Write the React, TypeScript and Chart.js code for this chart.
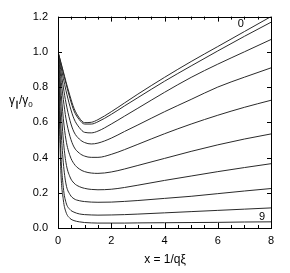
import React, { useEffect, useRef } from "react";
import { Chart, registerables } from "chart.js";

Chart.register(...registerables);

const xs = [0, 0.1, 0.2, 0.3, 0.45, 0.6, 0.8, 1.0, 1.25, 1.5, 2, 2.5, 3, 4, 5, 6, 7, 8];

const curve0 = [1.0, 0.945, 0.888, 0.83, 0.75, 0.68, 0.625, 0.598, 0.6, 0.615, 0.66, 0.71, 0.76, 0.855, 0.945, 1.03, 1.115, 1.2];
const curve1 = [1.0, 0.94, 0.88, 0.82, 0.735, 0.665, 0.615, 0.59, 0.59, 0.603, 0.645, 0.693, 0.74, 0.833, 0.92, 1.005, 1.088, 1.168];
const curve2 = [1.0, 0.925, 0.85, 0.78, 0.69, 0.62, 0.57, 0.543, 0.54, 0.55, 0.59, 0.635, 0.68, 0.77, 0.855, 0.93, 1.0, 1.07];
const curve3 = [1.0, 0.9, 0.8, 0.71, 0.61, 0.545, 0.505, 0.485, 0.477, 0.482, 0.51, 0.548, 0.585, 0.66, 0.73, 0.8, 0.856, 0.909];
const curve4 = [1.0, 0.86, 0.73, 0.62, 0.52, 0.46, 0.425, 0.408, 0.401, 0.401, 0.418, 0.445, 0.475, 0.535, 0.59, 0.64, 0.685, 0.725];
const curve5 = [1.0, 0.8, 0.62, 0.5, 0.41, 0.365, 0.335, 0.32, 0.312, 0.31, 0.318, 0.335, 0.355, 0.395, 0.435, 0.472, 0.505, 0.534];
const curve6 = [1.0, 0.72, 0.5, 0.37, 0.29, 0.255, 0.235, 0.225, 0.219, 0.217, 0.22, 0.23, 0.243, 0.27, 0.295, 0.32, 0.343, 0.365];
const curve7 = [1.0, 0.6, 0.37, 0.25, 0.19, 0.166, 0.155, 0.15, 0.147, 0.146, 0.147, 0.151, 0.156, 0.168, 0.18, 0.195, 0.21, 0.224];
const curve8 = [1.0, 0.45, 0.23, 0.145, 0.105, 0.09, 0.08, 0.076, 0.074, 0.073, 0.074, 0.076, 0.079, 0.086, 0.093, 0.1, 0.107, 0.114];
const curve9 = [1.0, 0.35, 0.16, 0.09, 0.055, 0.042, 0.035, 0.031, 0.029, 0.028, 0.028, 0.028, 0.029, 0.03, 0.031, 0.032, 0.034, 0.035];

const curves = [curve0, curve1, curve2, curve3, curve4, curve5, curve6, curve7, curve8, curve9];

const xTicks = [0, 2, 4, 6, 8];
const xMinorTicks = [0.5, 1, 1.5, 2.5, 3, 3.5, 4.5, 5, 5.5, 6.5, 7, 7.5];
const yTicks = [0, 0.2, 0.4, 0.6, 0.8, 1.0, 1.2];

const topLabel = { text: "0", x: 6.87, y: 1.157 };
const bottomLabel = { text: "9", x: 7.66, y: 0.064 };

const FONT = "'Liberation Sans', Arial, Helvetica, sans-serif";

const decorPlugin = {
  id: "decor",
  afterDraw(chart: any) {
    const ctx = chart.ctx as CanvasRenderingContext2D;
    const a = chart.chartArea;
    const xs_ = chart.scales.x;
    const ys_ = chart.scales.y;
    ctx.save();
    ctx.strokeStyle = "#000";
    ctx.lineWidth = 1;
    ctx.strokeRect(Math.round(a.left) + 0.5, Math.round(a.top) + 0.5, Math.round(a.right - a.left), Math.round(a.bottom - a.top));

    const line = (x1: number, y1: number, x2: number, y2: number) => {
      ctx.beginPath();
      ctx.moveTo(x1, y1);
      ctx.lineTo(x2, y2);
      ctx.stroke();
    };
    for (const t of xTicks) {
      const px = Math.round(xs_.getPixelForValue(t)) + 0.5;
      line(px, a.bottom, px, a.bottom - 5);
      line(px, a.top, px, a.top + 5);
    }
    for (const t of xMinorTicks) {
      const px = Math.round(xs_.getPixelForValue(t)) + 0.5;
      line(px, a.bottom, px, a.bottom - 3);
      line(px, a.top, px, a.top + 3);
    }
    for (const t of yTicks) {
      const py = Math.round(ys_.getPixelForValue(t)) + 0.5;
      line(a.left, py, a.left + 4, py);
      line(a.right, py, a.right - 4, py);
    }

    ctx.fillStyle = "#000";
    ctx.font = `11px ${FONT}`;
    ctx.textAlign = "center";
    ctx.textBaseline = "middle";
    ctx.fillText(topLabel.text, xs_.getPixelForValue(topLabel.x), ys_.getPixelForValue(topLabel.y));
    ctx.fillText(bottomLabel.text, xs_.getPixelForValue(bottomLabel.x), ys_.getPixelForValue(bottomLabel.y));

    // x title
    ctx.font = `12px ${FONT}`;
    ctx.fillText("x = 1/qξ", (a.left + a.right) / 2 + 0.5, 260);

    // y title  γ∥/γ0 drawn horizontally
    ctx.textAlign = "left";
    ctx.textBaseline = "alphabetic";
    let x = 9;
    const base = 104;
    const big = `12px ${FONT}`;
    const small = `8px ${FONT}`;
    ctx.font = big;
    ctx.fillText("γ", x, base);
    x += ctx.measureText("γ").width;
    ctx.font = small;
    ctx.fillText("∥", x, base + 3);
    x += ctx.measureText("∥").width;
    ctx.font = big;
    ctx.fillText("/γ", x, base);
    x += ctx.measureText("/γ").width;
    ctx.font = small;
    ctx.fillText("0", x, base + 3);
    ctx.restore();
  },
};

export default function App() {
  const ref = useRef<HTMLCanvasElement | null>(null);
  useEffect(() => {
    document.body.style.margin = "0";
    const canvas = ref.current!;
    const chart = new Chart(canvas, {
      type: "line",
      data: {
        datasets: curves.map((c, k) => ({
          label: String(k),
          data: xs.map((x, i) => ({ x, y: c[i] })),
          borderColor: "#2a2a2a",
          borderWidth: 1,
          pointRadius: 0,
          fill: false,
          cubicInterpolationMode: "monotone" as const,
        })),
      },
      options: {
        animation: false,
        responsive: false,
        devicePixelRatio: 1,
        layout: { padding: { top: 15, right: 19, left: 0, bottom: 0 } },
        plugins: { legend: { display: false }, tooltip: { enabled: false } },
        scales: {
          x: {
            type: "linear",
            min: 0,
            max: 8,
            afterBuildTicks: (s: any) => {
              s.ticks = xTicks.map((v) => ({ value: v }));
            },
            afterFit: (s: any) => {
              s.height = 45;
            },
            grid: { display: false, drawTicks: false },
            border: { display: false },
            ticks: { color: "#000", padding: 6, maxRotation: 0, font: { family: FONT, size: 11 } },
          },
          y: {
            type: "linear",
            min: 0,
            max: 1.2,
            afterBuildTicks: (s: any) => {
              s.ticks = yTicks.map((v) => ({ value: v }));
            },
            afterFit: (s: any) => {
              s.width = 58;
            },
            grid: { display: false, drawTicks: false },
            border: { display: false },
            ticks: {
              color: "#000",
              padding: 10,
              font: { family: FONT, size: 11 },
              callback: (v: any) => Number(v).toFixed(1),
            },
          },
        },
      },
      plugins: [decorPlugin],
    });
    return () => chart.destroy();
  }, []);
  return (
    <div style={{ width: 290, height: 273 }}>
      <canvas ref={ref} width={290} height={273} style={{ display: "block" }} />
    </div>
  );
}
